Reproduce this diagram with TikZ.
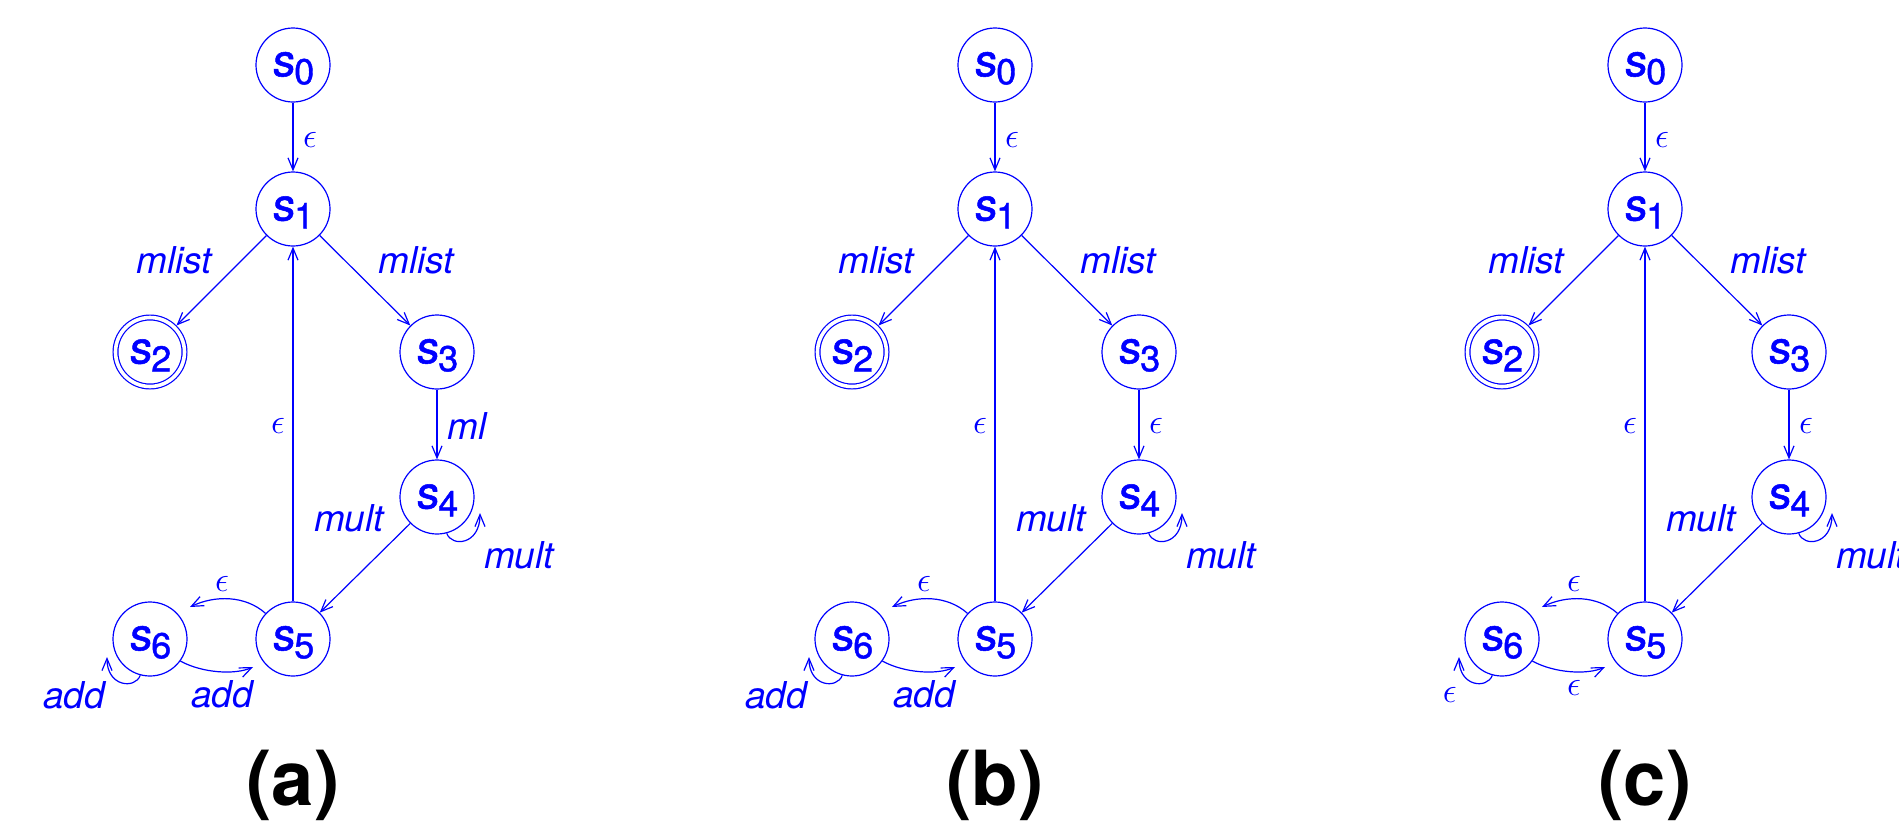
\RequirePackage{fix-cm}
\documentclass[tikz,border=0pt]{standalone}
\usepackage{fontspec}
\setmainfont{TeX Gyre Heros}
\newfontfamily\stslant{TeX Gyre Heros}[FakeSlant=0.1, FakeBold=1.2]
\newfontfamily\stup{TeX Gyre Heros}[FakeBold=1.2]
\usetikzlibrary{arrows.meta,calc}
\newcommand\st[1]{\rule[-8pt]{0pt}{39pt}{\fontsize{45}{45}\stslant s}\raisebox{-8pt}{\fontsize{36}{36}\stup #1}}
\newcommand\lab[1]{{\fontsize{37}{37}\selectfont\itshape #1}}
\newcommand\eps{{\fontsize{35}{35}\selectfont$\epsilon$}}
\tikzset{
  statenode/.style={circle, draw=blue, line width=1.2pt, minimum size=74pt, inner sep=0pt, text=blue},
  acceptnode/.style={circle, draw=blue, line width=1.2pt, double=white, double distance=3.6pt, minimum size=69pt, inner sep=0pt, outer sep=3pt, text=blue},
  edgeline/.style={draw=blue, line width=1.2pt, -{Straight Barb[length=12pt,width=10pt]}},
  labnode/.style={text=blue, inner sep=0pt},
  capnode/.style={text=black, inner sep=0pt, font=\fontsize{76}{76}\selectfont\bfseries},
}
\newcommand\drawpanel[6]{%
\begin{scope}[shift={(#2,65)}, name prefix=#1-]
\node[statenode] (s0) at (0,0) {\st{0}};
\node[statenode] (s1) at (0,144) {\st{1}};
\node[acceptnode] (s2) at (-143,287) {\st{2}};
\node[statenode] (s3) at (144,287) {\st{3}};
\node[statenode] (s4) at (144,432) {\st{4}};
\node[statenode] (s5) at (0,574) {\st{5}};
\node[statenode] (s6) at (-143,574) {\st{6}};
\coordinate (l4) at (187,448);
\coordinate (l6) at (-186,592);
\coordinate (e56) at (-103,542);
\coordinate (e65) at (-40,602);
\draw[edgeline] (s0) -- (s1);
\draw[edgeline] (s1) -- (s2);
\draw[edgeline] (s1) -- (s3);
\draw[edgeline] (s3) -- (s4);
\draw[edgeline] (s4) -- (s5);
\draw[edgeline] (s5) -- (s1);
\draw[edgeline] (s4.-75) .. controls +(5,14) and +(0,32) .. (l4);
\draw[edgeline] (s6.-105) .. controls +(-5,14) and +(0,30) .. (l6);
\draw[edgeline] (s5.137) .. controls +(-20,-18) and +(25,-12) .. (e56);
\draw[edgeline] (s6.-36) .. controls +(22,12) and +(-18,8) .. (e65);
\node[labnode] (t01) at (17,74.5) {\eps};
\node[labnode, anchor=base] (t12) at (-119,208) {\lab{mlist}};
\node[labnode, anchor=base] (t13) at (123,208) {\lab{mlist}};
\node[labnode] (t51) at (-15,361) {\eps};
\node[labnode, anchor=west] (t34) at (154,361) {#3};
\node[labnode, anchor=base] (t45) at (56,466) {\lab{mult}};
\node[labnode, anchor=base] (t44) at (226,503) {\lab{mult}};
\node[labnode] (t56) at (-71,519) {\eps};
\node[labnode, anchor=north] (t65) at (-71,615) {#5};
\node[labnode, anchor=east] (t66) at (-188,630) {#4};
\node[capnode, anchor=base] (cap) at (0,740) {#6};
\end{scope}}
\begin{document}
\begin{tikzpicture}[x=1pt,y=-1pt]
\fill[white] (0,0) rectangle (1899,828);
\useasboundingbox (0,0) rectangle (1899,828);
\drawpanel{a}{293}{\lab{ml}}{\lab{add}}{\lab{add}}{(a)}
\drawpanel{b}{995}{\eps}{\lab{add}}{\lab{add}}{(b)}
\drawpanel{c}{1645}{\eps}{\eps}{\eps}{(c)}
\end{tikzpicture}
\end{document}
